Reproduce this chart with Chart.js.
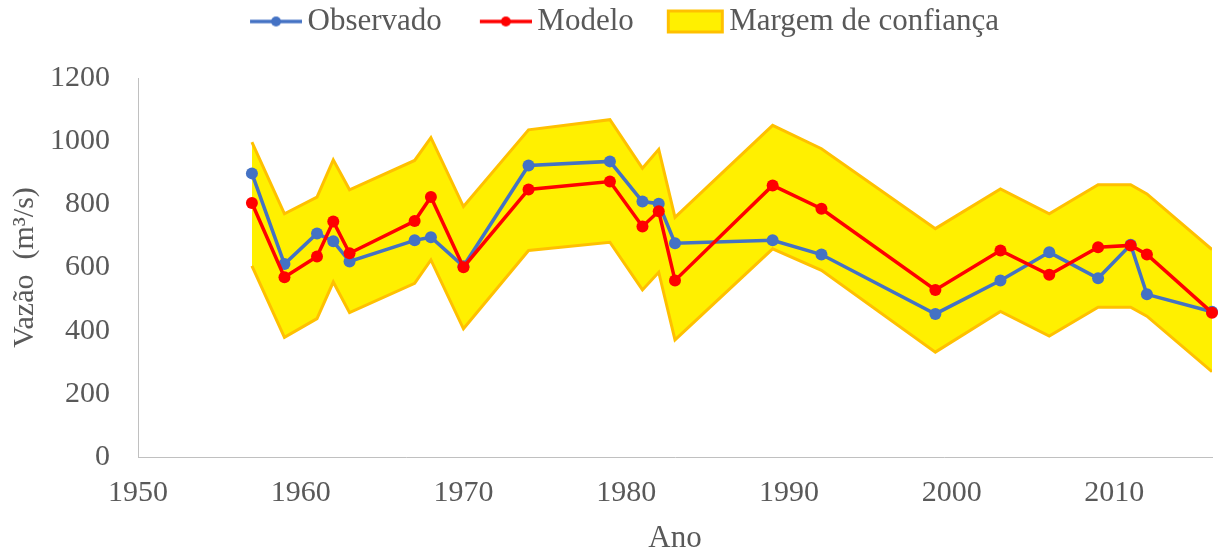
<!DOCTYPE html>
<html>
<head>
<meta charset="utf-8">
<script src="https://cdn.jsdelivr.net/npm/chart.js@4.4.1/dist/chart.umd.min.js"></script>
<style>
  html, body { margin: 0; padding: 0; background: #fff; }
</style>
</head>
<body>
<canvas id="myChart" width="1218" height="554"></canvas>
<script>
// dados
var anos = [1957, 1959, 1961, 1962, 1963, 1967, 1968, 1970, 1974, 1979, 1981, 1982, 1983, 1989, 1992, 1999, 2003, 2006, 2009, 2011, 2012, 2016];
var observado = [898, 611, 708, 683, 619, 686, 696, 604, 923, 936, 809, 802, 677, 686, 641, 453, 559, 648, 566, 672, 515, 460];
var modelo = [804, 569, 635, 746, 645, 747, 823, 601, 847, 872, 730, 778, 559, 860, 786, 529, 654, 577, 664, 670, 641, 457];
var limiteSup = [997, 770, 823, 941, 846, 939, 1011, 793, 1036, 1068, 914, 974, 759, 1050, 976, 723, 849, 770, 862, 862, 833, 657];
var limiteInf = [605, 379, 438, 554, 457, 550, 624, 406, 654, 680, 529, 585, 371, 659, 591, 332, 461, 383, 474, 474, 446, 270];
var ticksX = [1950, 1960, 1970, 1980, 1990, 2000, 2010];
var ticksY = [0, 200, 400, 600, 800, 1000, 1200];

var AZUL = '#4472C4';
var VERMELHO = '#FF0000';
var AMARELO = 'rgb(255,240,0)';
var LARANJA = '#FFC000';

function pontos(valores) {
    return anos.map(function (a, i) { return { x: a, y: valores[i] }; });
}

// icones da legenda (linha com marcador / caixa da faixa)
function iconeLinha(cor) {
    var c = document.createElement('canvas');
    c.width = 94; c.height = 26;
    var g = c.getContext('2d');
    g.strokeStyle = cor; g.lineWidth = 3.5;
    g.beginPath(); g.moveTo(42, 13); g.lineTo(94, 13); g.stroke();
    g.fillStyle = cor;
    g.beginPath(); g.arc(68, 13, 5, 0, Math.PI * 2); g.fill();
    return c;
}
function iconeFaixa() {
    var c = document.createElement('canvas');
    c.width = 100; c.height = 26;
    var g = c.getContext('2d');
    g.fillStyle = AMARELO; g.fillRect(40, 1, 57, 24);
    g.strokeStyle = LARANJA; g.lineWidth = 3;
    g.strokeRect(41.5, 2.5, 54, 21);
    return c;
}

Chart.defaults.font.family = '"Liberation Serif", "Times New Roman", serif';
Chart.defaults.color = '#595959';

var margemLegenda = {
    id: 'margemLegenda',
    beforeInit: function (chart) {
        var fitOrig = chart.legend.fit;
        chart.legend.fit = function () {
            fitOrig.bind(chart.legend)();
            this.height += 31;
        };
    }
};

var ctx = document.getElementById('myChart').getContext('2d');
var myChart = new Chart(ctx, {
    type: 'line',
    data: {
        datasets: [
            {
                label: 'Observado',
                data: pontos(observado),
                borderColor: AZUL, backgroundColor: AZUL,
                borderWidth: 3.5, pointRadius: 6, pointBorderWidth: 0,
                order: 1, clip: false
            },
            {
                label: 'Modelo',
                data: pontos(modelo),
                borderColor: VERMELHO, backgroundColor: VERMELHO,
                borderWidth: 3.5, pointRadius: 6, pointBorderWidth: 0,
                order: 0, clip: false
            },
            {
                label: 'Margem de confiança',
                data: pontos(limiteSup),
                borderColor: LARANJA, backgroundColor: AMARELO,
                borderWidth: 3, pointRadius: 0,
                fill: '+1', order: 3
            },
            {
                label: 'inferior',
                data: pontos(limiteInf),
                borderColor: LARANJA, backgroundColor: AMARELO,
                borderWidth: 3, pointRadius: 0,
                fill: false, order: 2
            }
        ]
    },
    options: {
        responsive: false,
        animation: false,
        devicePixelRatio: 1,
        layout: { padding: { top: 0, left: 0, right: 1, bottom: 0 } },
        plugins: {
            legend: {
                position: 'top',
                labels: {
                    usePointStyle: true,
                    pointStyleWidth: 74,
                    padding: 6,
                    font: { size: 31 },
                    color: '#595959',
                    generateLabels: function () {
                        return [
                            { text: 'Observado', pointStyle: iconeLinha(AZUL), fillStyle: AZUL, strokeStyle: AZUL, lineWidth: 0, hidden: false, datasetIndex: 0, fontColor: '#595959' },
                            { text: 'Modelo', pointStyle: iconeLinha(VERMELHO), fillStyle: VERMELHO, strokeStyle: VERMELHO, lineWidth: 0, hidden: false, datasetIndex: 1, fontColor: '#595959' },
                            { text: 'Margem de confiança', pointStyle: iconeFaixa(), fillStyle: AMARELO, strokeStyle: LARANJA, lineWidth: 0, hidden: false, datasetIndex: 2, fontColor: '#595959' }
                        ];
                    }
                }
            },
            tooltip: { enabled: false }
        },
        scales: {
            x: {
                type: 'linear',
                min: 1950,
                max: 2016,
                afterBuildTicks: function (axis) {
                    axis.ticks = ticksX.map(function (v) { return { value: v }; });
                },
                afterFit: function (scale) { scale.height = 97; },
                grid: { display: false },
                border: { display: true, color: '#c0c0c0', width: 1 },
                ticks: {
                    padding: 10,
                    font: { size: 30 },
                    maxRotation: 0,
                    callback: function (v) { return String(v); }
                },
                title: {
                    display: true,
                    text: 'Ano',
                    font: { size: 31, lineHeight: 1 },
                    padding: { top: 0, bottom: 0 }
                }
            },
            y: {
                min: 0,
                max: 1200,
                afterBuildTicks: function (axis) {
                    axis.ticks = ticksY.map(function (v) { return { value: v }; });
                },
                afterFit: function (scale) { scale.width = 138; },
                grid: { display: false },
                border: { display: true, color: '#c0c0c0', width: 1 },
                ticks: {
                    padding: 20,
                    font: { size: 30 },
                    callback: function (v) { return String(v); }
                },
                title: {
                    display: true,
                    text: 'Vazão  (m³/s)',
                    font: { size: 30 },
                    padding: { top: 7, bottom: 0 }
                }
            }
        }
    },
    plugins: [margemLegenda]
});
</script>
</body>
</html>
